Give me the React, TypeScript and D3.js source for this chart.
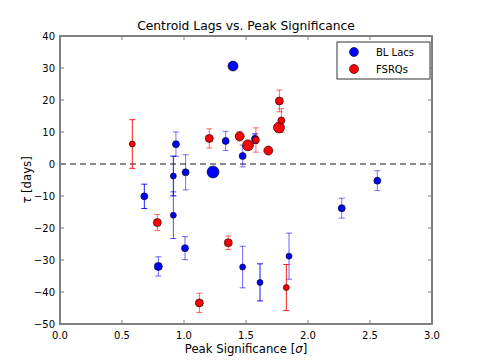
import React from 'react';
import * as d3 from 'd3';

// BL Lacs
const blX = [0.68, 0.793, 0.914, 0.914, 0.935, 1.008, 1.013, 1.234, 1.336, 1.395, 1.473, 1.473, 1.573, 1.613, 1.847, 2.272, 2.559];
const blY = [-10.1, -32.0, -3.75, -16.0, 6.2, -26.3, -2.6, -2.5, 7.2, 30.6, 2.5, -32.2, 7.9, -37.0, -28.8, -13.8, -5.2];
const blErr = [3.8, 3.0, 6.2, 7.3, 3.8, 3.6, 5.5, 0, 3.0, 0, 3.4, 6.5, 1.5, 5.8, 7.2, 3.1, 3.1];
const blSize = [3.5, 4, 3, 3, 3.5, 3.5, 3.5, 6, 3.5, 5, 3.5, 3, 3.5, 3, 3, 3.5, 3.5];
const blAlpha = [0.9, 0.6, 0.95, 0.7, 0.55, 0.6, 0.55, 0, 0.55, 0, 0.55, 0.6, 0.9, 0.9, 0.6, 0.55, 0.55];

// FSRQs
const fsX = [0.583, 0.785, 1.124, 1.204, 1.357, 1.449, 1.516, 1.58, 1.68, 1.766, 1.769, 1.785, 1.825];
const fsY = [6.25, -18.3, -43.4, 8.0, -24.6, 8.66, 5.84, 7.5, 4.2, 11.4, 19.7, 13.6, -38.6];
const fsErr = [7.6, 2.5, 3.0, 3.0, 2.1, 1.5, 0, 3.8, 0, 1.5, 3.4, 3.7, 7.2];
const fsSize = [3, 4, 4, 4, 4, 4.5, 5.5, 3.5, 4.5, 5.5, 4, 3.5, 3];
const fsAlpha = [0.9, 0.6, 0.6, 0.6, 0.6, 0.4, 0, 0.6, 0, 0.4, 0.6, 0.6, 0.9];

const xTicks = [0, 0.5, 1.0, 1.5, 2.0, 2.5, 3.0];
const yTicks = [-50, -40, -30, -20, -10, 0, 10, 20, 30, 40];

const font = 'DejaVu Sans, sans-serif';

const Series = ({ xs, ys, errs, sizes, alphas, color, x, y }) => (
  <g>
    {xs.map((v, i) =>
      errs[i] > 0 ? (
        <g key={'e' + i} stroke={color} strokeOpacity={alphas[i]} strokeWidth={1}>
          <line x1={x(v)} x2={x(v)} y1={y(ys[i] - errs[i])} y2={y(ys[i] + errs[i])} />
          <line x1={x(v) - 3} x2={x(v) + 3} y1={y(ys[i] - errs[i])} y2={y(ys[i] - errs[i])} />
          <line x1={x(v) - 3} x2={x(v) + 3} y1={y(ys[i] + errs[i])} y2={y(ys[i] + errs[i])} />
        </g>
      ) : null
    )}
    {xs.map((v, i) => (
      <circle key={'c' + i} cx={x(v)} cy={y(ys[i])} r={sizes[i]} fill={color} stroke="#000" strokeWidth={0.6} />
    ))}
  </g>
);

export default function App() {
  const margin = { top: 36, right: 48, bottom: 36, left: 60 };
  const W = 480, H = 360;
  const x = d3.scaleLinear().domain([0, 3]).range([margin.left, W - margin.right]);
  const y = d3.scaleLinear().domain([-50, 40]).range([H - margin.bottom, margin.top]);
  const [x0, x1] = x.range();
  const [yb, yt] = y.range();
  const frame = '#808080';

  return (
    <svg width={W} height={H} style={{ position: 'absolute', left: 0, top: 0, background: '#fff' }} fontFamily={font}>
      <rect x={0} y={0} width={W} height={H} fill="#fff" />
      <line x1={x0} x2={x1} y1={y(0)} y2={y(0)} stroke="#666" strokeWidth={1.5} strokeDasharray="6,4" />

      <Series xs={blX} ys={blY} errs={blErr} sizes={blSize} alphas={blAlpha} color="#0000ff" x={x} y={y} />
      <Series xs={fsX} ys={fsY} errs={fsErr} sizes={fsSize} alphas={fsAlpha} color="#ff0000" x={x} y={y} />

      {/* ticks */}
      {xTicks.map(t => (
        <g key={'xt' + t}>
          <line x1={x(t)} x2={x(t)} y1={yb} y2={yb - 4} stroke={frame} />
          <line x1={x(t)} x2={x(t)} y1={yt} y2={yt + 4} stroke={frame} />
          <text x={x(t)} y={yb + 15} fontSize={10} textAnchor="middle">{t.toFixed(1)}</text>
        </g>
      ))}
      {yTicks.map(t => (
        <g key={'yt' + t}>
          <line x1={x0} x2={x0 + 4} y1={y(t)} y2={y(t)} stroke={frame} />
          <line x1={x1} x2={x1 - 4} y1={y(t)} y2={y(t)} stroke={frame} />
          <text x={x0 - 5} y={y(t) + 3.5} fontSize={10} textAnchor="end">{t < 0 ? '\u2212' + Math.abs(t) : t}</text>
        </g>
      ))}

      <rect x={x0} y={yt} width={x1 - x0} height={yb - yt} fill="none" stroke={frame} strokeWidth={2} />

      <text x={(x0 + x1) / 2} y={30} fontSize={12.3} textAnchor="middle">Centroid Lags vs. Peak Significance</text>
      <text x={(x0 + x1) / 2} y={353} fontSize={11.7} textAnchor="middle">
        Peak Significance [<tspan fontStyle="italic">σ</tspan>]
      </text>
      <text transform={`translate(31,${(yt + yb) / 2}) rotate(-90)`} fontSize={11.7} textAnchor="middle">
        <tspan fontStyle="italic">τ</tspan> [days]
      </text>

      {/* legend */}
      <g>
        <rect x={337} y={42} width={93} height={37} fill="#fff" stroke="#333" strokeWidth={1} />
        <circle cx={354} cy={52} r={4.5} fill="#0000ff" stroke="#000" strokeWidth={0.6} />
        <text x={376} y={55.5} fontSize={10}>BL Lacs</text>
        <circle cx={354} cy={69} r={4.5} fill="#ff0000" stroke="#000" strokeWidth={0.6} />
        <text x={376} y={72.5} fontSize={10}>FSRQs</text>
      </g>
    </svg>
  );
}
